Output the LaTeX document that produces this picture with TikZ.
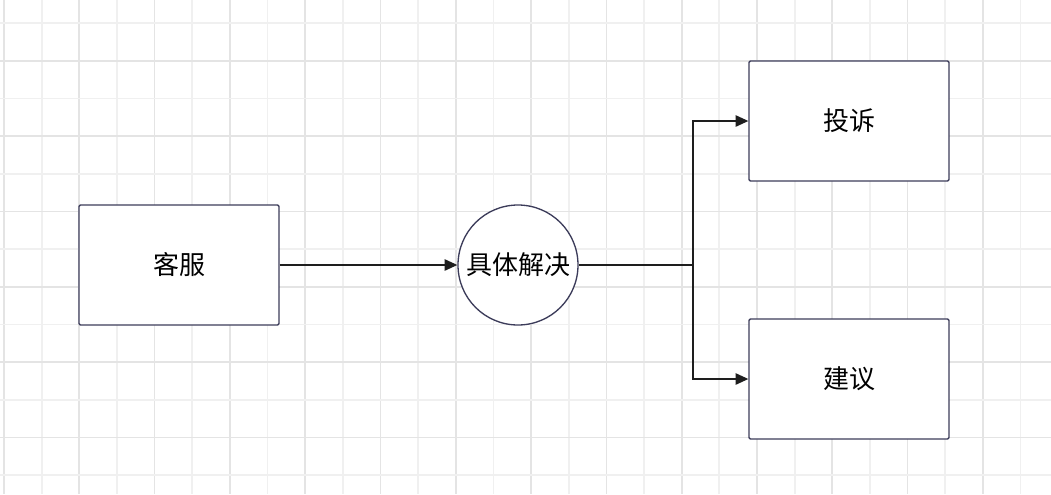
\documentclass[tikz,border=0pt]{standalone}
\usepackage{fontspec}
\setmainfont{Noto Sans CJK SC}
\usetikzlibrary{arrows.meta, positioning}
\definecolor{gridLight}{HTML}{F0F0F0}
\definecolor{gridDark}{HTML}{E4E4E4}
\definecolor{boxLine}{HTML}{3C3C5A}
\definecolor{wireDark}{HTML}{1E1E1E}

\begin{document}
\begin{tikzpicture}[x=0.75pt, y=-0.75pt,
    sbox/.style={rectangle, rounded corners=1pt, draw=boxLine, line width=1pt,
                 fill=white, minimum width=150pt, minimum height=90pt,
                 font=\fontsize{19.5}{22}\selectfont},
    scircle/.style={circle, draw=boxLine, line width=1pt, fill=white,
                 minimum size=90pt, inner sep=0pt,
                 font=\fontsize{19.5}{22}\selectfont},
    wire/.style={wireDark, line width=1.1pt},
    warrow/.style={wire, -{Triangle[length=9.5pt, width=8.5pt]}},
  ]
    \useasboundingbox (0,0) rectangle (1051,494);
    \fill[white] (0,0) rectangle (1051,494);

    % background grid
    \foreach \i in {0,...,27} {
      \pgfmathsetmacro{\gx}{4+37.65*\i}
      \ifodd\i
        \draw[gridLight, line width=1.3pt] (\gx,0) -- (\gx,494);
      \else
        \draw[gridDark, line width=1.3pt] (\gx,0) -- (\gx,494);
      \fi
    }
    \foreach \j in {0,...,12} {
      \pgfmathsetmacro{\gy}{23.3+37.65*\j}
      \ifodd\j
        \draw[gridDark, line width=1.3pt] (0,\gy) -- (1051,\gy);
      \else
        \draw[gridLight, line width=1.3pt] (0,\gy) -- (1051,\gy);
      \fi
    }

    \node[sbox]    (kefu)   at (179,265) {客服};
    \node[scircle] (jiejue) at (518,265) {具体解决};
    \node[sbox]    (tousu)  at (849,121) {投诉};
    \node[sbox]    (jianyi) at (849,379) {建议};
    \coordinate (fork) at (693,265);

    \draw[warrow] (kefu) -- (jiejue);
    \draw[wire] (jiejue) -- (fork);
    \draw[warrow] (fork) |- (tousu);
    \draw[warrow] (fork) |- (jianyi);
  \end{tikzpicture}
\end{document}
